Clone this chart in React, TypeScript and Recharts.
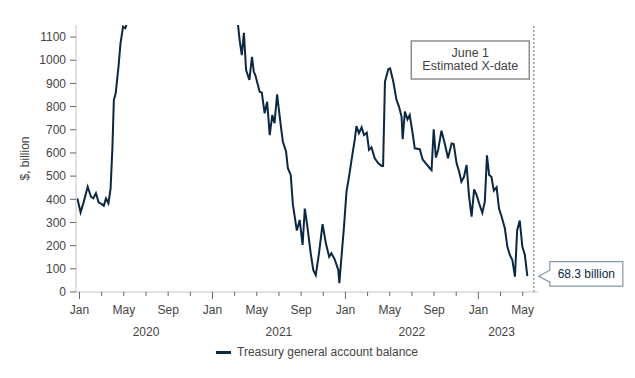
import { LineChart, Line, XAxis, YAxis, ReferenceLine, ReferenceDot, Legend } from 'recharts'

const NAVY = '#0c2742'
const TEXT = '#444'
const FONT = '"Liberation Sans", Arial, sans-serif'

const dates = [
  '2019-12-26', '2020-01-04', '2020-01-13', '2020-01-24', '2020-02-02', '2020-02-08', '2020-02-15', '2020-02-22',
  '2020-03-02', '2020-03-07', '2020-03-13', '2020-03-20', '2020-03-26', '2020-03-31', '2020-04-04', '2020-04-09',
  '2020-04-17', '2020-04-22', '2020-04-29', '2020-05-05', '2020-05-10', '2020-05-20', '2020-06-03', '2020-07-01',
  '2020-08-05', '2020-09-02', '2020-10-07', '2020-11-04', '2020-12-02', '2021-01-06', '2021-02-03', '2021-03-03',
  '2021-03-10', '2021-03-15', '2021-03-21', '2021-03-27', '2021-04-02', '2021-04-11', '2021-04-18', '2021-04-23',
  '2021-04-27', '2021-05-09', '2021-05-15', '2021-05-23', '2021-05-30', '2021-06-06', '2021-06-13', '2021-06-19',
  '2021-06-26', '2021-07-06', '2021-07-12', '2021-07-21', '2021-07-26', '2021-08-03', '2021-08-09', '2021-08-20',
  '2021-08-28', '2021-09-05', '2021-09-11', '2021-09-18', '2021-09-27', '2021-10-04', '2021-10-11', '2021-10-20',
  '2021-10-30', '2021-11-08', '2021-11-17', '2021-11-23', '2021-12-02', '2021-12-12', '2021-12-15', '2021-12-21',
  '2021-12-28', '2022-01-04', '2022-01-11', '2022-01-21', '2022-01-27', '2022-02-01', '2022-02-07', '2022-02-14',
  '2022-02-20', '2022-02-27', '2022-03-05', '2022-03-12', '2022-03-21', '2022-03-31', '2022-04-09', '2022-04-13',
  '2022-04-18', '2022-04-27', '2022-05-02', '2022-05-11', '2022-05-20', '2022-05-27', '2022-06-03', '2022-06-06',
  '2022-06-12', '2022-06-19', '2022-06-25', '2022-07-03', '2022-07-09', '2022-07-23', '2022-07-31', '2022-08-09',
  '2022-08-20', '2022-08-25', '2022-08-31', '2022-09-06', '2022-09-12', '2022-09-21', '2022-09-30', '2022-10-09',
  '2022-10-19', '2022-10-25', '2022-11-02', '2022-11-09', '2022-11-15', '2022-11-22', '2022-11-29', '2022-12-06',
  '2022-12-13', '2022-12-20', '2022-12-27', '2023-01-03', '2023-01-12', '2023-01-19', '2023-01-25', '2023-01-31',
  '2023-02-06', '2023-02-12', '2023-02-19', '2023-02-25', '2023-03-04', '2023-03-13', '2023-03-20', '2023-03-27',
  '2023-04-03', '2023-04-10', '2023-04-16', '2023-04-23', '2023-04-30', '2023-05-07', '2023-05-14',
]

// $ billion
const balance = [
  404, 344, 390, 454, 411, 404, 426, 387,
  378, 372, 404, 383, 447, 620, 828, 857,
  979, 1073, 1145, 1138, 1160, 1350, 1500, 1750,
  1700, 1650, 1700, 1750, 1650, 1700, 1600, 1300,
  1160, 1087, 1022, 1118, 958, 915, 1015, 950,
  936, 864, 861, 771, 821, 677, 764, 728,
  853, 720, 648, 605, 534, 505, 378, 265,
  311, 203, 360, 282, 167, 95, 73, 167,
  293, 210, 152, 167, 141, 95, 38, 152,
  282, 433, 497, 598, 656, 716, 685, 711,
  677, 687, 613, 624, 577, 555, 544, 544,
  907, 961, 965, 907, 828, 799, 756, 659,
  778, 745, 764, 685, 620, 616, 572, 555,
  534, 526, 702, 580, 613, 696, 641, 577,
  641, 638, 555, 519, 476, 497, 548, 411,
  325, 443, 418, 383, 342, 390, 590, 505,
  497, 437, 452, 361, 325, 275, 196, 160,
  138, 66, 267, 308, 196, 160, 68.3,
]

const yTicks = [0, 100, 200, 300, 400, 500, 600, 700, 800, 900, 1000, 1100]
const monthNames = ['Jan', 'Feb', 'Mar', 'Apr', 'May', 'Jun', 'Jul', 'Aug', 'Sep', 'Oct', 'Nov', 'Dec']
const yearLabels = ['2020', '2021', '2022', '2023']
const yearLabelDates = ['2020-07-01', '2021-07-01', '2022-07-01', '2023-03-04']
const xDate = '2023-06-01'

// months since Jan 1 2020
function toMonths(d: string) {
  const [y, mo, day] = d.split('-').map(Number)
  const dim = new Date(y, mo, 0).getDate()
  return (y - 2020) * 12 + (mo - 1) + (day - 1) / dim
}

const data = dates.map((d, i) => ({ m: toMonths(d), value: balance[i] }))
const monthTicks = Array.from({ length: 21 }, (_, i) => i * 2)
const yearTicks = yearLabelDates.map(toMonths)
const last = data[data.length - 1]

function MonthTick({ x, y, payload }: any) {
  const m = Math.round(payload.value)
  const label = m % 4 === 0 ? monthNames[m % 12] : ''
  return (
    <g>
      <line x1={x} x2={x} y1={y} y2={y + (m % 12 === 0 ? 7 : 4)} stroke="#666" />
      {label && (
        <text x={x} y={y + 22} textAnchor="middle" fontSize={12} fill={TEXT} fontFamily={FONT}>{label}</text>
      )}
    </g>
  )
}

function YearTick({ x, y, payload }: any) {
  const i = yearTicks.findIndex((t) => Math.abs(t - payload.value) < 0.01)
  return (
    <text x={x} y={y + 14} textAnchor="middle" fontSize={12} fill={TEXT} fontFamily={FONT}>{yearLabels[i]}</text>
  )
}

function XDateBox({ viewBox }: any) {
  const right = viewBox.x - 4.5
  const left = right - 118
  const top = viewBox.y + 16
  return (
    <g fontFamily={FONT} fontSize={12.5} fill={TEXT}>
      <rect x={left} y={top} width={118} height={38} fill="#fff" stroke="#8c8c8c" strokeWidth={1.5} />
      <text x={left + 59} y={top + 16} textAnchor="middle">June 1</text>
      <text x={left + 59} y={top + 29} textAnchor="middle">Estimated X-date</text>
    </g>
  )
}

function LastCallout({ viewBox }: any) {
  const cx = viewBox.x + viewBox.width / 2
  const cy = viewBox.y + viewBox.height / 2
  const tip = cx + 11.5
  const left = cx + 22.5
  const right = left + 73
  const top = cy - 14.5
  const bottom = cy + 10
  const d = `M${left},${top} H${right} V${bottom} H${left} V${cy + 6} L${tip},${cy} L${left},${cy - 6} Z`
  return (
    <g>
      <path d={d} fill="#fff" stroke="#8796a8" strokeWidth={1.2} />
      <text x={(left + right) / 2} y={cy + 2} textAnchor="middle" fontSize={12} fill={NAVY} fontFamily={FONT}>
        68.3 billion
      </text>
    </g>
  )
}

function LegendContent() {
  return (
    <div style={{ display: 'flex', alignItems: 'center', gap: 6, fontFamily: FONT, fontSize: 12, color: TEXT }}>
      <div style={{ width: 15, height: 3, background: NAVY }} />
      <span>Treasury general account balance</span>
    </div>
  )
}

export default function App() {
  return (
    <div style={{ width: 627, height: 370, background: '#fff' }}>
      <LineChart width={627} height={370} data={data} margin={{ top: 17, right: 97, bottom: 36, left: 0 }}>
        <XAxis
          dataKey="m" type="number" domain={[-0.316, 41.38]} allowDataOverflow
          ticks={monthTicks} interval={0} tick={<MonthTick />}
          tickLine={false} tickSize={0} tickMargin={0} height={30}
          axisLine={{ stroke: '#c4c4c4' }}
        />
        <XAxis
          xAxisId="year" dataKey="m" type="number" domain={[-0.316, 41.38]} allowDataOverflow
          ticks={yearTicks} interval={0} tick={<YearTick />}
          tickLine={false} axisLine={false} tickSize={0} tickMargin={0} height={20}
        />
        <YAxis
          type="number" domain={[0, 1152]} allowDataOverflow ticks={yTicks} interval={0} width={68}
          tickSize={6} tickMargin={4} tickLine={{ stroke: '#666' }} axisLine={{ stroke: '#c4c4c4' }}
          tick={{ fontSize: 12, fill: TEXT, fontFamily: FONT }}
          label={{ value: '$, billion', angle: -90, position: 'insideLeft', offset: 17, style: { textAnchor: 'middle', fontSize: 12, fill: TEXT, fontFamily: FONT } }}
        />
        <ReferenceLine x={toMonths(xDate)} stroke="#9a9a9a" strokeWidth={1.5} strokeDasharray="2 2" label={XDateBox} />
        <Line type="linear" dataKey="value" stroke={NAVY} strokeWidth={2} dot={false} isAnimationActive={false} />
        <ReferenceDot x={last.m} y={last.value} r={1} fill="none" stroke="none" label={LastCallout} />
        <Legend
          layout="horizontal" verticalAlign="middle" align="center"
          content={<LegendContent />}
          wrapperStyle={{ left: 208, top: 337, width: 'auto' }}
        />
      </LineChart>
    </div>
  )
}
